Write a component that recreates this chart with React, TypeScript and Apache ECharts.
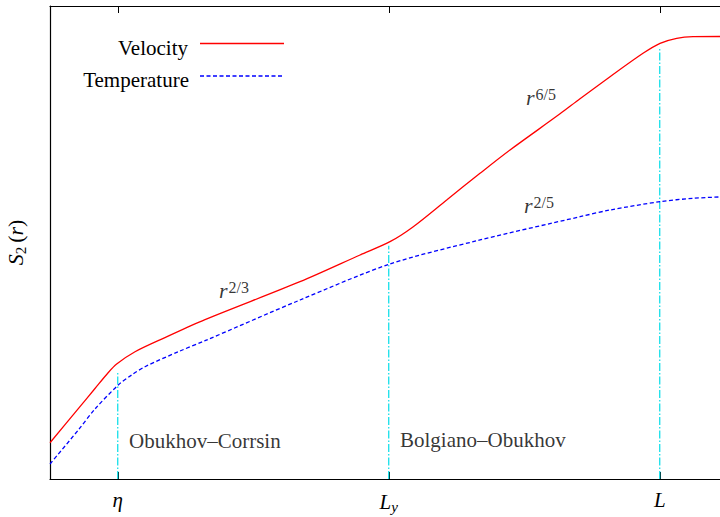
import React, { useEffect, useRef } from 'react';
import * as echarts from 'echarts';

// r axis in arbitrary log-like units, S2 in arbitrary units (0..100)
const velocityR = [0, 0.418, 0.664, 0.861, 0.984, 1.255, 1.697, 2.288, 3.69, 4.576, 5.018, 5.362, 5.855, 6.347, 6.79, 7.528, 7.823, 8.266, 8.753, 9.004, 9.25, 9.491, 10];
const velocityS = [7.67, 14.88, 19.13, 22.52, 24.31, 26.91, 29.9, 33.7, 41.71, 47.36, 50.17, 53.34, 58.99, 64.63, 69.56, 77.2, 80.4, 85.05, 90.0, 92.11, 93.17, 93.51, 93.55];
const temperatureR = [0, 0.418, 0.664, 1.008, 1.206, 1.402, 1.894, 2.288, 3.69, 5.018, 6.347, 7.823, 8.266, 9.004, 9.491, 10];
const temperatureS = [3.17, 10.36, 14.8, 19.87, 21.99, 23.74, 26.91, 29.24, 37.84, 45.45, 50.53, 55.45, 56.87, 58.63, 59.34, 59.7];

const scaleR = [1, 5, 9];
const scaleLabels = ['{i|η}', '{i|L}{sub|y}', '{i|L}'];
const scaleLineTop = [22.6, 49.3, 91.3];

const rangeNames = ['Obukhov–Corrsin', 'Bolgiano–Obukhov'];
const rangeNameR = [1.166, 5.166];
const rangeNameS = [8.1, 8.2];

const slopeLabels = ['2/3', '6/5', '2/5'];
const slopeR = [2.716, 7.247, 7.218];
const slopeS = [39.75, 80.65, 57.72];

const legendNames = ['Velocity', 'Temperature'];

const FONT = '"Liberation Serif", "Times New Roman", serif';
const RED = '#ff0000';
const BLUE = '#0000ff';
const CYAN = '#00dde8';

export default function App() {
  const ref = useRef<HTMLDivElement>(null);
  useEffect(() => {
    if (!ref.current) return;
    const chart = echarts.init(ref.current, null, { renderer: 'svg' });
    const zip = (xs: number[], ys: number[]) => xs.map((x, i) => [x, ys[i]]);
    const series: any[] = [
      {
        name: legendNames[0],
        type: 'line',
        data: zip(velocityR, velocityS),
        showSymbol: false,
        symbol: 'none',
        smooth: 0.3,
        lineStyle: { color: RED, width: 1.3 },
        z: 5,
      },
      {
        name: legendNames[1],
        type: 'line',
        data: zip(temperatureR, temperatureS),
        showSymbol: false,
        symbol: 'none',
        smooth: 0.3,
        lineStyle: { color: BLUE, width: 1.3, type: [4, 2.5] },
        z: 5,
      },
      ...scaleR.map((r, i) => ({
        type: 'line',
        data: [[r, 0], [r, scaleLineTop[i]]],
        symbol: 'none',
        silent: true,
        lineStyle: { color: CYAN, width: 1.2, type: [8, 2, 1.5, 2] },
        z: 3,
      })),
      {
        type: 'scatter',
        symbolSize: 0,
        silent: true,
        data: rangeNames.map((n, i) => ({ value: [rangeNameR[i], rangeNameS[i]], name: n })),
        label: {
          show: true,
          position: [0, 0],
          align: 'left',
          verticalAlign: 'middle',
          formatter: (p: any) => p.name,
          fontFamily: FONT,
          fontSize: 21,
          color: '#000',
        },
      },
      {
        type: 'scatter',
        symbolSize: 0,
        silent: true,
        data: slopeLabels.map((n, i) => ({ value: [slopeR[i], slopeS[i]], name: n })),
        label: {
          show: true,
          position: [0, 0],
          align: 'center',
          verticalAlign: 'middle',
          formatter: (p: any) => '{r|r}{s|' + p.name + '}',
          rich: {
            r: { fontFamily: FONT, fontStyle: 'italic', fontSize: 22, color: '#000', verticalAlign: 'bottom', lineHeight: 22 },
            s: { fontFamily: FONT, fontSize: 16, color: '#000', verticalAlign: 'top', lineHeight: 22, padding: [0, 0, 8, 1] },
          },
        },
      },
    ];

    chart.setOption({
      animation: false,
      backgroundColor: '#fff',
      grid: { left: 50, top: 6, bottom: 38, right: -7.5, containLabel: false, outerBoundsMode: 'none' },
      xAxis: [
        {
          type: 'value',
          min: 0,
          max: 10,
          position: 'bottom',
          axisLine: { show: true, lineStyle: { color: '#000', width: 1.2 } },
          splitLine: { show: false },
          axisTick: { show: true, inside: true, length: 7, customValues: scaleR, lineStyle: { color: '#000' } },
          axisLabel: {
            show: true,
            customValues: scaleR,
            margin: 10,
            formatter: (v: number) => scaleLabels[scaleR.indexOf(v)] ?? '',
            rich: {
              i: { fontFamily: FONT, fontStyle: 'italic', fontSize: 21, color: '#000' },
              sub: { fontFamily: FONT, fontStyle: 'italic', fontSize: 15, color: '#000', padding: [10, 0, 0, 0] },
            },
          },
        },
        {
          type: 'value',
          min: 0,
          max: 10,
          position: 'top',
          axisLine: { show: true, lineStyle: { color: '#000', width: 1.2 } },
          splitLine: { show: false },
          axisTick: { show: true, inside: true, length: 7, customValues: scaleR, lineStyle: { color: '#000' } },
          axisLabel: { show: false },
        },
      ],
      yAxis: {
        type: 'value',
        min: 0,
        max: 100,
        axisLine: { show: true, lineStyle: { color: '#000', width: 1.2 } },
        axisTick: { show: false },
        axisLabel: { show: false },
        splitLine: { show: false },
        name: '{i|S}{sub|2}{n|(}{i|r}{n|)}',
        nameLocation: 'middle',
        nameRotate: 90,
        nameGap: 22,
        nameTextStyle: {
          rich: {
            i: { fontFamily: FONT, fontStyle: 'italic', fontSize: 22, color: '#000' },
            sub: { fontFamily: FONT, fontSize: 15, color: '#000', padding: [10, 4, 0, 0] },
            n: { fontFamily: FONT, fontSize: 22, color: '#000' },
          },
        },
      },
      graphic: [
        { type: 'text', x: 188, y: 48, style: { text: legendNames[0], align: 'right', verticalAlign: 'middle', fontFamily: FONT, fontSize: 21, fill: '#000' } },
        { type: 'line', shape: { x1: 200, y1: 43.5, x2: 284, y2: 43.5 }, style: { stroke: RED, lineWidth: 1.3 } },
        { type: 'text', x: 189, y: 80, style: { text: legendNames[1], align: 'right', verticalAlign: 'middle', fontFamily: FONT, fontSize: 21, fill: '#000' } },
        { type: 'line', shape: { x1: 200, y1: 76, x2: 284, y2: 76 }, style: { stroke: BLUE, lineWidth: 1.3, lineDash: [4, 2.5] } },
      ],
      series,
    });
    return () => chart.dispose();
  }, []);
  return <div ref={ref} style={{ position: 'fixed', left: 0, top: 0, width: 720, height: 517 }} />;
}
